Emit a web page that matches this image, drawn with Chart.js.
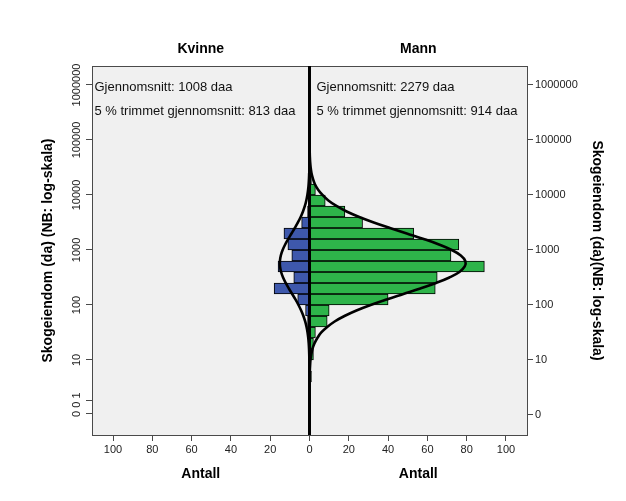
<!DOCTYPE html>
<html>
<head>
<meta charset="utf-8">
<script src="https://cdn.jsdelivr.net/npm/chart.js@4"></script>
<style>
html,body{margin:0;padding:0;background:#fff;}
canvas{display:block;}
</style>
</head>
<body>
<canvas id="c" width="626" height="501"></canvas>
<script>
// ---- texts ----
const panelTitles = ['Kvinne', 'Mann'];
const xAxisTitle = 'Antall';
const yAxisTitleLeft = 'Skogeiendom (da) (NB: log-skala)';
const yAxisTitleRight = 'Skogeiendom (da)(NB: log-skala)';
const kvinneStats = ['Gjennomsnitt: 1008 daa', '5 % trimmet gjennomsnitt: 813 daa'];
const mannStats = ['Gjennomsnitt: 2279 daa', '5 % trimmet gjennomsnitt: 914 daa'];

// ---- histogram bins (centre of bin on log10 scale) and counts ----
const kvinneBins   = [1.7, 1.9, 2.1, 2.3, 2.5, 2.7, 2.9, 3.1, 3.3, 3.5, 3.7];
const kvinneCounts = [1,   2,   6,   18,  8,   16,  9,   11,  13,  4,   1];
const mannBins   = [0.7, 1.1, 1.3, 1.5, 1.7, 1.9, 2.1, 2.3, 2.5, 2.7, 2.9, 3.1, 3.3, 3.5, 3.7, 3.9, 4.1, 4.3];
const mannCounts = [1,   2,   2,   3,   9,   10,  40,  64,  65,  89,  72,  76,  53,  27,  18,  8,   3,   1];

// ---- normal curves: log10 position and count ----
const kvinneCurveLog = [1.0,1.1,1.2,1.3,1.4,1.5,1.6,1.7,1.8,1.9,2.0,2.1,2.2,2.3,2.4,2.5,2.6,2.7,2.8,2.9,3.0,3.1,3.2,3.3,3.4,3.5,3.6,3.7,3.8,3.9,4.0,4.1,4.2,4.3,4.4];
const kvinneCurveCount = [0.07,0.13,0.23,0.39,0.63,0.99,1.5,2.2,3.11,4.25,5.61,7.15,8.82,10.51,12.09,13.45,14.45,15.01,15.06,14.6,13.68,12.39,10.83,9.16,7.48,5.9,4.5,3.32,2.36,1.63,1.08,0.69,0.43,0.26,0.15];
const mannCurveLog = [0.6,0.7,0.8,0.9,1.0,1.1,1.2,1.3,1.4,1.5,1.6,1.7,1.8,1.9,2.0,2.1,2.2,2.3,2.4,2.5,2.6,2.7,2.8,2.9,3.0,3.1,3.2,3.3,3.4,3.5,3.6,3.7,3.8,3.9,4.0,4.1,4.2,4.3,4.4,4.5,4.6,4.7,4.8];
const mannCurveCount = [0.04,0.08,0.16,0.3,0.5,0.9,1.5,2.5,4.0,6.0,9.0,12.8,17.8,23.9,31.1,39.2,47.8,56.4,64.4,71.2,76.3,79.0,79.3,77.0,72.4,65.9,58.1,49.5,40.9,32.7,25.3,18.9,13.7,9.6,6.6,4.3,2.7,1.7,1.0,0.58,0.33,0.18,0.09];

// ---- axes ----
const xTickValues = [-100, -80, -60, -40, -20, 0, 20, 40, 60, 80, 100];
const xRange = 110.7;
const yMin = -0.364, yMax = 6.345;
const leftTickPos = [6, 5, 4, 3, 2, 1, 0.27, 0.02];
const leftTickLabels = ['1000000', '100000', '10000', '1000', '100', '10', '0 1', '0'];
const rightTickPos = [6, 5, 4, 3, 2, 1, 0];
const rightTickLabels = ['1000000', '100000', '10000', '1000', '100', '10', '0'];

const FONT = '"Liberation Sans", Arial, Helvetica, sans-serif';
Chart.defaults.font.family = FONT;
const FRAME = '#4a4a4a';

const panelPlugin = {
  id: 'panel',
  beforeDraw(chart) {
    const {ctx, chartArea: a} = chart;
    ctx.save();
    ctx.fillStyle = '#f0f0f0';
    ctx.fillRect(a.left, a.top, a.right - a.left, a.bottom - a.top);
    ctx.restore();
  },
  afterDatasetsDraw(chart) {
    const {ctx, chartArea: a, scales} = chart;
    const cx = scales.x.getPixelForValue(0);
    ctx.save();
    ctx.strokeStyle = '#000';
    ctx.lineWidth = 3;
    ctx.beginPath();
    ctx.moveTo(cx, a.top);
    ctx.lineTo(cx, a.bottom);
    ctx.stroke();
    ctx.fillStyle = '#111';
    ctx.font = '13px ' + FONT;
    ctx.textBaseline = 'middle';
    ctx.textAlign = 'left';
    const rows = [a.top + 21, a.top + 45];
    kvinneStats.forEach((t, i) => ctx.fillText(t, a.left + 2.5, rows[i]));
    mannStats.forEach((t, i) => ctx.fillText(t, cx + 7, rows[i]));
    ctx.restore();
  }
};

const barCommon = {
  type: 'bar', borderColor: '#000', borderWidth: 1, borderSkipped: false,
  grouped: false, barPercentage: 1, categoryPercentage: 1, order: 2,
  xAxisID: 'x', yAxisID: 'y'
};
const lineCommon = {
  type: 'line', borderColor: '#000', borderWidth: 2.6, pointRadius: 0,
  tension: 0.4, fill: false, order: 1, xAxisID: 'x', yAxisID: 'y'
};

const catAxis = (titles, height, pos, weight, pad) => ({
  type: 'linear', position: pos, weight: weight, min: -xRange, max: xRange,
  afterBuildTicks: s => { s.ticks = [{value: -xRange / 2}, {value: xRange / 2}]; },
  ticks: {callback: (v, i) => titles[i], font: {size: 14, weight: 'bold'}, color: '#000',
          padding: pad, autoSkip: false, maxRotation: 0, minRotation: 0},
  grid: {display: false, drawTicks: false},
  border: {display: pos === 'top', color: FRAME, width: 1},
  afterFit: s => { s.height = height; }
});

new Chart(document.getElementById('c'), {
  type: 'bar',
  data: {
    datasets: [
      Object.assign({}, barCommon, {label: panelTitles[0], backgroundColor: '#3e58ac',
        data: kvinneBins.map((b, i) => ({x: -kvinneCounts[i], y: b}))}),
      Object.assign({}, barCommon, {label: panelTitles[1], backgroundColor: '#2eb44a',
        data: mannBins.map((b, i) => ({x: mannCounts[i], y: b}))}),
      Object.assign({}, lineCommon, {label: 'k',
        data: kvinneCurveLog.map((l, i) => ({x: -kvinneCurveCount[i], y: l}))}),
      Object.assign({}, lineCommon, {label: 'm',
        data: mannCurveLog.map((l, i) => ({x: mannCurveCount[i], y: l}))})
    ]
  },
  options: {
    indexAxis: 'y',
    responsive: false,
    animation: false,
    layout: {padding: 0},
    plugins: {legend: {display: false}, tooltip: {enabled: false}},
    scales: {
      x: {
        type: 'linear', position: 'bottom', weight: 0, min: -xRange, max: xRange,
        afterBuildTicks: s => { s.ticks = xTickValues.map(v => ({value: v})); },
        ticks: {callback: v => String(Math.abs(v)), font: {size: 11}, color: '#222',
                padding: 2, autoSkip: false, maxRotation: 0, minRotation: 0},
        grid: {drawOnChartArea: false, drawTicks: true, tickLength: 6, color: FRAME},
        border: {display: true, color: FRAME, width: 1},
        afterFit: s => { s.height = 28; }
      },
      x3: catAxis([xAxisTitle, xAxisTitle], 38, 'bottom', 1, 3),
      x2: catAxis(panelTitles, 66, 'top', 0, 8),
      y: {
        type: 'linear', position: 'left', min: yMin, max: yMax, offset: false,
        afterBuildTicks: s => { s.ticks = leftTickPos.map(v => ({value: v})); },
        ticks: {callback: (v, i) => leftTickLabels[i], font: {size: 11}, color: '#222',
                minRotation: 90, maxRotation: 90, crossAlign: 'center', padding: -12, autoSkip: false},
        grid: {offset: false, drawOnChartArea: false, drawTicks: true, tickLength: 6, color: FRAME},
        border: {display: true, color: FRAME, width: 1},
        title: {display: true, text: yAxisTitleLeft, font: {size: 14, weight: 'bold'}, color: '#000',
                padding: {top: 40, bottom: 0}},
        afterFit: s => { s.width = 92; }
      },
      y2: {
        type: 'linear', position: 'right', min: yMin, max: yMax, offset: false,
        afterBuildTicks: s => { s.ticks = rightTickPos.map(v => ({value: v})); },
        ticks: {callback: (v, i) => rightTickLabels[i], font: {size: 11}, color: '#222',
                padding: 2, autoSkip: false},
        grid: {offset: false, drawOnChartArea: false, drawTicks: true, tickLength: 6, color: FRAME},
        border: {display: true, color: FRAME, width: 1},
        title: {display: true, text: yAxisTitleRight, font: {size: 14, weight: 'bold'}, color: '#000',
                padding: {top: 21, bottom: 0}},
        afterFit: s => { s.width = 99; }
      }
    }
  },
  plugins: [panelPlugin]
});
</script>
</body>
</html>
